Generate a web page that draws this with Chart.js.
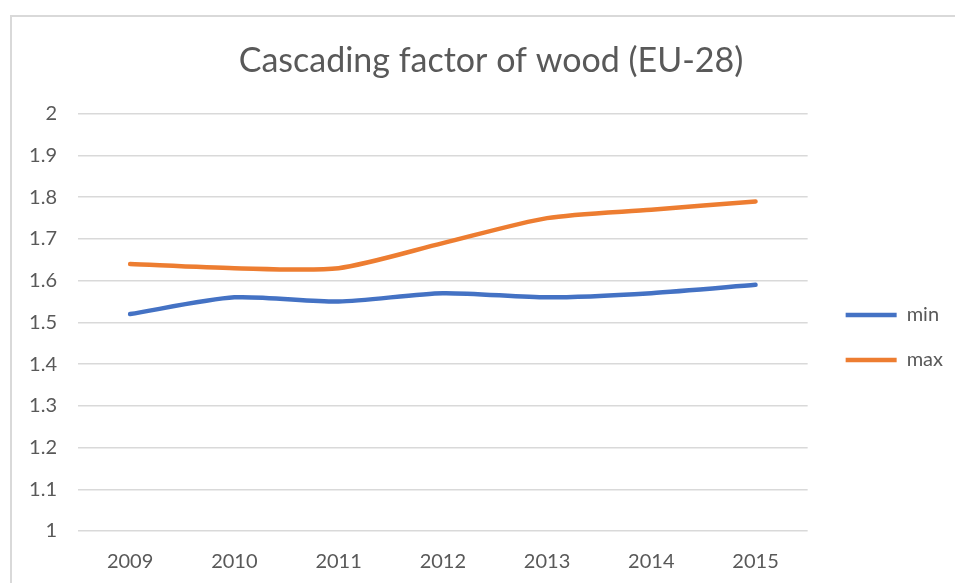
<!DOCTYPE html>
<html>
<head>
<meta charset="utf-8">
<script src="https://cdn.jsdelivr.net/npm/chart.js@4.4.1/dist/chart.umd.min.js"></script>
<style>
  html, body { margin: 0; padding: 0; background: #ffffff; overflow: hidden; }
  #wrap { position: relative; width: 955px; height: 583px; overflow: hidden; }
  #frame { position: absolute; left: 10px; top: 15px; width: 1000px; height: 1000px; border: 2px solid #d9d9d9; box-sizing: border-box; }
  canvas { position: absolute; left: 0; top: 0; }
</style>
</head>
<body>
<div id="wrap">
  <div id="frame"></div>
  <canvas id="c" width="955" height="583"></canvas>
</div>
<script>
const years = ["2009", "2010", "2011", "2012", "2013", "2014", "2015"];
const minValues = [1.52, 1.56, 1.55, 1.57, 1.56, 1.57, 1.59];
const maxValues = [1.64, 1.63, 1.63, 1.69, 1.75, 1.77, 1.79];
const yTicks = [1, 1.1, 1.2, 1.3, 1.4, 1.5, 1.6, 1.7, 1.8, 1.9, 2];
const titleText = "Cascading factor of wood (EU-28)";

const textColor = "#595959";
const fontFamily = "Lato, 'Open Sans', 'DejaVu Sans', sans-serif";

// nudges the library's legend and title boxes to their places
const boxShift = {
  id: "boxShift",
  afterLayout(chart) {
    const lg = chart.legend;
    if (lg) {
      lg.left += 13; lg.right += 13;
      lg.top += 46; lg.bottom += 46;
    }
    const tb = chart.titleBlock;
    if (tb) { tb.left += 21; tb.right += 21; }
  }
};

new Chart(document.getElementById("c"), {
  type: "line",
  data: {
    labels: years,
    datasets: [
      { label: "min", data: minValues, borderColor: "#4472c4", backgroundColor: "#4472c4",
        borderWidth: 4.5, pointRadius: 0, tension: 0.25, borderCapStyle: "round", borderJoinStyle: "round", pointStyle: "line" },
      { label: "max", data: maxValues, borderColor: "#ed7d31", backgroundColor: "#ed7d31",
        borderWidth: 4.5, pointRadius: 0, tension: 0.25, borderCapStyle: "round", borderJoinStyle: "round", pointStyle: "line" }
    ]
  },
  plugins: [boxShift],
  options: {
    responsive: false,
    animation: false,
    layout: { padding: { left: 0, right: 15, top: 0, bottom: 0 } },
    plugins: {
      title: {
        display: true, text: titleText, color: textColor,
        font: { family: fontFamily, size: 34, weight: "400", lineHeight: 1.2 },
        padding: { top: 41, bottom: 32 }
      },
      legend: {
        position: "right",
        align: "center",
        labels: {
          usePointStyle: true,
          pointStyle: "line",
          pointStyleWidth: 51,
          color: textColor,
          font: { family: fontFamily, size: 20 },
          padding: 25
        }
      },
      tooltip: { enabled: false }
    },
    scales: {
      x: {
        offset: true,
        grid: { display: false, drawTicks: false },
        border: { display: false },
        ticks: { color: textColor, font: { family: fontFamily, size: 20 }, padding: 19 },
        afterFit: s => { s.height = 52; }
      },
      y: {
        min: yTicks[0], max: yTicks[yTicks.length - 1],
        afterBuildTicks: s => { s.ticks = yTicks.map(v => ({ value: v })); },
        ticks: { color: textColor, font: { family: fontFamily, size: 20 }, padding: 21,
          callback: v => String(Math.round(v * 10) / 10) },
        grid: { color: "#d9d9d9", lineWidth: 1.5, drawTicks: false },
        border: { display: false },
        afterFit: s => { s.width = 78; }
      }
    }
  }
});
</script>
</body>
</html>
